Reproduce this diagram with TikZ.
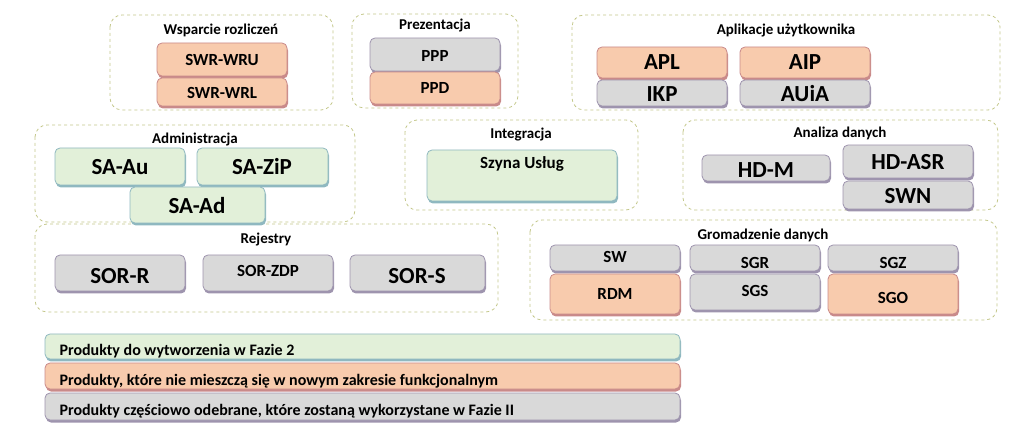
\documentclass[tikz,border=0pt]{standalone}
\usepackage{fontspec}
\setmainfont{Carlito}
\usetikzlibrary{shadows}
\definecolor{grn}{HTML}{E2F0D9}\definecolor{grnd}{HTML}{8FB8C0}
\definecolor{org}{HTML}{F8CBAD}\definecolor{orgd}{HTML}{C98A8A}
\definecolor{gry}{HTML}{D9D9D9}\definecolor{gryd}{HTML}{9E94AE}
\definecolor{grpc}{HTML}{C3C78A}
\tikzset{
 grp/.style={draw=grpc,dashed,rounded corners=12pt,line width=0.8pt},
 ttl/.style={font=\bfseries\fontsize{15}{17}\selectfont},
 lg/.style={font=\bfseries\fontsize{16}{18}\selectfont},
 bx/.style={rounded corners=5pt,draw=#1d,line width=0.8pt,fill=#1,
   drop shadow={shadow xshift=1pt,shadow yshift=-2.5pt,fill=#1d,opacity=1}},
 big/.style={font=\bfseries\fontsize{23}{25}\selectfont},
 mid/.style={font=\bfseries\fontsize{17}{19}\selectfont},
}
\begin{document}
\begin{tikzpicture}[x=1pt,y=-1pt]
\useasboundingbox (0,0) rectangle (1023,446);
% groups
\draw[grp] (110,15) rectangle (333,110); \node[ttl] (t1) at (221,30) {Wsparcie rozliczeń};
\draw[grp] (352,14) rectangle (518,108); \node[ttl] (t2) at (435,26) {Prezentacja};
\draw[grp] (572,15) rectangle (1000,110); \node[ttl] (t3) at (786,30) {Aplikacje  użytkownika};
\draw[grp] (35,125) rectangle (355,222); \node[ttl] (t4) at (195,140) {Administracja};
\draw[grp] (405,120) rectangle (638,210); \node[ttl] (t5) at (521,135) {Integracja};
\draw[grp] (683,120) rectangle (998,210); \node[ttl] (t6) at (840,133) {Analiza  danych};
\draw[grp] (35,224) rectangle (498,312); \node[ttl] (t7) at (266,240) {Rejestry};
\draw[grp] (530,220) rectangle (997,320); \node[ttl] (t8) at (763,235) {Gromadzenie danych};
% boxes
\draw[bx=org] (157,43) rectangle (287,76); \node[mid] (swru) at (222,60) {SWR-WRU};
\draw[bx=org] (157,78) rectangle (287,106); \node[mid] (swrl) at (222,93) {SWR-WRL};
\draw[bx=gry] (370,38) rectangle (500,71); \node[mid] (ppp) at (435,56) {PPP};
\draw[bx=org] (370,72) rectangle (500,104); \node[mid] (ppd) at (435,88) {PPD};
\draw[bx=org] (597,47) rectangle (727,78); \node[big] (apl) at (662,62) {APL};
\draw[bx=org] (740,47) rectangle (870,78); \node[big] (aip) at (805,62) {AIP};
\draw[bx=gry] (597,80) rectangle (727,106); \node[big] (ikp) at (662,94) {IKP};
\draw[bx=gry] (740,80) rectangle (870,106); \node[big] (auia) at (805,94) {AUiA};
\draw[bx=grn] (55,148) rectangle (185,185); \node[big] (sau) at (120,167) {SA-Au};
\draw[bx=grn] (197,148) rectangle (328,185); \node[big] (szip) at (262,167) {SA-ZiP};
\draw[bx=grn] (130,187) rectangle (265,223); \node[big] (sad) at (197,206) {SA-Ad};
\draw[bx=grn] (427,150) rectangle (617,201); \node[mid] (szyna) at (522,164) {Szyna Usług};
\draw[bx=gry] (702,155) rectangle (830,181); \node[big] (hdm) at (766,170) {HD-M};
\draw[bx=gry] (843,145) rectangle (973,178); \node[big] (hdasr) at (908,162) {HD-ASR};
\draw[bx=gry] (843,181) rectangle (973,209); \node[big] (swn) at (908,196) {SWN};
\draw[bx=gry] (55,255) rectangle (185,291); \node[big] (sorr) at (120,276) {SOR-R};
\draw[bx=gry] (203,255) rectangle (333,291); \node[mid] (sorzdp) at (268,271) {SOR-ZDP};
\draw[bx=gry] (350,255) rectangle (485,291); \node[big] (sors) at (417,276) {SOR-S};
\draw[bx=gry] (550,245) rectangle (680,271); \node[mid] (sw) at (615,257) {SW};
\draw[bx=gry] (690,245) rectangle (820,271); \node[mid] (sgr) at (755,263) {SGR};
\draw[bx=gry] (828,245) rectangle (958,271); \node[mid] (sgz) at (893,263) {SGZ};
\draw[bx=org] (550,274) rectangle (680,314); \node[mid] (rdm) at (615,294) {RDM};
\draw[bx=gry] (690,274) rectangle (820,310); \node[mid] (sgs) at (755,291) {SGS};
\draw[bx=org] (828,274) rectangle (958,314); \node[mid] (sgo) at (893,298) {SGO};
% legend
\draw[bx=grn] (45,334) rectangle (680,359); \node[lg,anchor=west] (l1) at (56,351) {Produkty do wytworzenia w Fazie 2};
\draw[bx=org] (45,363) rectangle (680,389); \node[lg,anchor=west] (l2) at (56,381) {Produkty, które nie mieszczą się w nowym zakresie funkcjonalnym};
\draw[bx=gry] (45,393) rectangle (680,420); \node[lg,anchor=west] (l3) at (56,411) {Produkty częściowo odebrane, które zostaną wykorzystane  w Fazie II};
\end{tikzpicture}
\end{document}
